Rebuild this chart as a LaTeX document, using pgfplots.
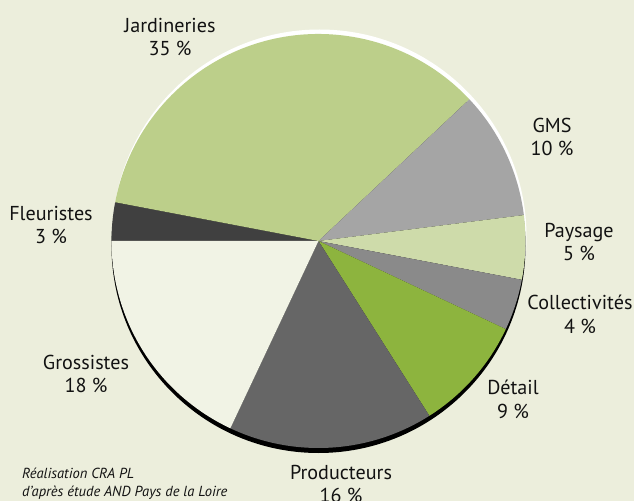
\documentclass[border=0pt]{standalone}
\usepackage{pgfplots}
\pgfplotsset{compat=1.18}
\usepackage{fontspec}
\setmainfont{PT Sans}
\definecolor{bg}{RGB}{236,238,220}
\definecolor{cJar}{RGB}{188,207,138}
\definecolor{cGMS}{RGB}{165,165,165}
\definecolor{cPay}{RGB}{206,219,170}
\definecolor{cCol}{RGB}{138,138,138}
\definecolor{cDet}{RGB}{141,180,62}
\definecolor{cPro}{RGB}{102,102,102}
\definecolor{cGro}{RGB}{241,243,229}
\definecolor{cFle}{RGB}{64,64,64}
\definecolor{txt}{RGB}{18,18,18}
% slice: cumulative start (%), value (%), colour
\newcommand\slice[3]{\fill[#3] (axis cs:318.5,260) -- ++({180-3.6*#1}:207bp)
  arc[start angle={180-3.6*#1}, end angle={180-3.6*(#1+#2)}, radius=207bp] -- cycle;}
\newcommand\lab[4]{\node[txt,align=center,font=\fontsize{20.2}{24}\selectfont] at (axis cs:#1,#2) {#3\\#4};}
\begin{document}
\begin{tikzpicture}
\begin{axis}[x=1bp,y=1bp,xmin=0,xmax=634,ymin=0,ymax=501,hide axis,clip=false,scale only axis]
\fill[bg] (axis cs:0,0) rectangle (axis cs:634,501);
\fill[white] (axis cs:319.5,264.5) circle[radius=207bp];
\fill[black] (axis cs:318.5,255) circle[radius=207bp];
\slice{0}{3}{cFle}
\slice{3}{35}{cJar}
\slice{38}{10}{cGMS}
\slice{48}{5}{cPay}
\slice{53}{4}{cCol}
\slice{57}{9}{cDet}
\slice{66}{16}{cPro}
\slice{82}{18}{cGro}
\lab{170}{464}{Jardineries}{35 \%}
\lab{552}{364}{GMS}{10 \%}
\lab{579}{259}{Paysage}{5 \%}
\lab{580}{187}{Collectivités}{4 \%}
\lab{513}{102}{Détail}{9 \%}
\lab{341}{17}{Producteurs}{16 \%}
\lab{86}{127}{Grossistes}{18 \%}
\lab{51}{276}{Fleuristes}{3 \%}
\node[txt,anchor=base west,inner sep=0pt,font=\itshape\fontsize{14.6}{18}\selectfont] at (axis cs:22,23) {Réalisation CRA PL};
\node[txt,anchor=base west,inner sep=0pt,font=\itshape\fontsize{14.6}{18}\selectfont] at (axis cs:22,4.5) {d'après étude AND Pays de la Loire};
\end{axis}
\pgfresetboundingbox
\path (0,0) rectangle (634bp,501bp);
\end{tikzpicture}
\end{document}
